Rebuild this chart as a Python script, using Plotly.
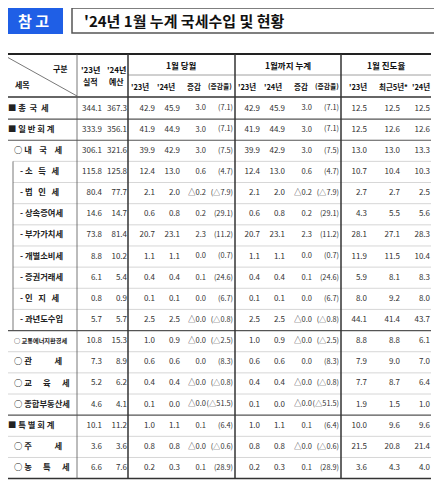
import numpy as np
import plotly.graph_objects as go

# 세목 (label, indent level)
labels = ['■ 총  국  세', '■ 일 반 회 계', '○ 내    국    세', '- 소   득   세', '- 법   인   세',
          '- 상속증여세', '- 부가가치세', '- 개별소비세', '- 증권거래세', '- 인   지   세',
          '- 과년도수입', '○ 교통에너지환경세', '○ 관            세', '○ 교      육      세',
          '○ 종합부동산세', '■ 특 별 회 계', '○ 주            세', '○ 농      특      세']
indent = [0, 0, 1, 2, 2, 2, 2, 2, 2, 2, 2, 1, 1, 1, 1, 0, 1, 1]

actual23 = [344.1, 333.9, 306.1, 115.8, 80.4, 14.6, 73.8, 8.8, 6.1, 0.8, 5.7, 10.8, 7.3, 5.2, 4.6, 10.1, 3.6, 6.6]
budget24 = [367.3, 356.1, 321.6, 125.8, 77.7, 14.7, 81.4, 10.2, 5.4, 0.9, 5.7, 15.3, 8.9, 6.2, 4.1, 11.2, 3.6, 7.6]
m23 = [42.9, 41.9, 39.9, 12.4, 2.1, 0.6, 20.7, 1.1, 0.4, 0.1, 2.5, 1.0, 0.6, 0.4, 0.1, 1.0, 0.8, 0.2]
m24 = [45.9, 44.9, 42.9, 13.0, 2.0, 0.8, 23.1, 1.1, 0.4, 0.1, 2.5, 0.9, 0.6, 0.4, 0.0, 1.1, 0.8, 0.3]
mdiff = [3.0, 3.0, 3.0, 0.6, -0.2, 0.2, 2.3, 0.0, 0.1, 0.0, -0.0, -0.0, 0.0, -0.0, -0.0, 0.1, -0.0, 0.1]
mrate = [7.1, 7.1, 7.5, 4.7, -7.9, 29.1, 11.2, 0.7, 24.6, 6.7, -0.8, -2.5, 8.3, -0.8, -51.5, 6.4, -0.6, 28.9]
c23 = m23
c24 = m24
cdiff = mdiff
crate = mrate
p23 = [12.5, 12.5, 13.0, 10.7, 2.7, 4.3, 28.1, 11.9, 5.9, 8.0, 44.1, 8.8, 7.9, 7.7, 1.9, 10.0, 21.5, 3.6]
p5 = [12.5, 12.6, 13.0, 10.4, 2.7, 5.5, 27.1, 11.5, 8.1, 9.2, 41.4, 8.8, 9.0, 8.7, 1.5, 9.6, 20.8, 4.3]
p24 = [12.5, 12.6, 13.3, 10.3, 2.5, 5.6, 28.3, 10.4, 8.3, 8.0, 43.7, 6.1, 7.0, 6.4, 1.0, 9.6, 21.4, 4.0]


def fmt(v):
    return ('△' if np.signbit(v) else '') + f'{abs(v):.1f}'


def fmt_rate(v):
    return '(' + fmt(v) + ')'


FONT = 'Noto Sans CJK KR'
NUMFONT = 'Liberation Sans Narrow, Noto Sans CJK KR'
TXT = '#333333'
y0, rh = 108.5, 21.15
ys = [y0 + i * rh for i in range(len(labels))]

fig = go.Figure()

# label column
lab_x = [8 + 6 * k for k in indent]
for t, x, y in zip(labels, lab_x, ys):
    s = 6.2 if '교통' in t else 8.3
    fig.add_trace(go.Scatter(x=[x], y=[y], mode='text', text=['<b>' + t + '</b>'], textposition='middle right',
                             textfont=dict(family=FONT, size=s, color='#222222'), hoverinfo='skip'))

# numeric columns: (values, formatter, right edge, font size)
cols = [(actual23, fmt, 102, 8), (budget24, fmt, 127, 8),
        (m23, fmt, 155, 8), (m24, fmt, 180, 8), (mdiff, fmt, 206, 7.5), (mrate, fmt_rate, 233, 7.3),
        (c23, fmt, 260, 8), (c24, fmt, 285, 8), (cdiff, fmt, 312, 7.5), (crate, fmt_rate, 339, 7.3),
        (p23, fmt, 367, 8), (p5, fmt, 400, 8), (p24, fmt, 430, 8)]
for vals, f, xr, s in cols:
    fig.add_trace(go.Scatter(x=[xr] * len(vals), y=ys, mode='text', text=[f(v) for v in vals],
                             textposition='middle left', textfont=dict(family=FONT, size=s, color=TXT),
                             hoverinfo='skip'))

shapes = []


def hline(y, x0=5, x1=431, w=0.8, c='#aaaaaa'):
    shapes.append(dict(type='line', x0=x0, x1=x1, y0=y, y1=y, line=dict(color=c, width=w)))


def vline(x, a, b, w=0.8, c='#555555'):
    shapes.append(dict(type='line', x0=x, x1=x, y0=a, y1=b, line=dict(color=c, width=w)))


# title boxes
shapes.append(dict(type='rect', x0=5, x1=62, y0=8, y1=33, fillcolor='#1f5fe6', line=dict(color='#1f5fe6')))
shapes.append(dict(type='rect', x0=72, x1=435, y0=8, y1=33, fillcolor='white', line=dict(color='#555555', width=1.5)))

# table grid
top, hmid, hbot = 54, 75, 97
bottom = ys[-1] + rh / 2
hline(top, w=2, c='#222222')
hline(hmid, x0=128, w=0.8, c='#888888')
hline(hbot, w=1.5, c='#333333')
for i in range(1, len(labels)):
    yb = y0 + (i - 0.5) * rh
    if i in (1, 2, 11, 15):
        hline(yb, w=1.2, c='#555555')
    elif 3 <= i <= 10:
        hline(yb, x0=13, w=0.6, c='#bbbbbb')
    else:
        hline(yb, w=0.6, c='#bbbbbb')
hline(bottom, w=1.5, c='#333333')
vline(77, top, bottom, w=0.8)
for x in (128, 235, 341):
    vline(x, top, bottom, w=1.5, c='#333333')
vline(13, y0 + 2.5 * rh, y0 + 10.5 * rh, w=0.8)
shapes.append(dict(type='line', x0=7, y0=57, x1=77, y1=96, line=dict(color='#555555', width=0.8)))

ann = []


def txt(x, y, t, s=8.5, c='#111111', anchor='center'):
    ann.append(dict(x=x, y=y, text=t, showarrow=False, xanchor=anchor, yanchor='middle',
                    font=dict(family=FONT, size=s, color=c)))


txt(33, 20.5, '<b>참 고</b>', 15, 'white')
txt(82, 20.5, "<b>'24년 1월 누계 국세수입 및 현황</b>", 15, '#111111', 'left')
txt(60, 68, '<b>구분</b>', 8)
txt(22, 84, '<b>세목</b>', 8)
for x, a, b in ((90, "<b>'23년</b>", '<b>실적</b>'), (116, "<b>'24년</b>", '<b>예산</b>')):
    txt(x, 69, a, 8)
    txt(x, 81, b, 8)
for x, t in ((181, '<b>1월 당월</b>'), (288, '<b>1월까지 누계</b>'), (386, '<b>1월 진도율</b>')):
    txt(x, 64.5, t, 8.5)
sub = ["<b>'23년</b>", "<b>'24년</b>", '<b>증감</b>', '<b>(증감율)</b>']
for base in (128, 235):
    for dx, t in zip((12, 38, 66, 92), sub):
        txt(base + dx, 86, t, 7.5 if 'b>(' not in t else 6.8)
for x, t in ((358, "<b>'23년</b>"), (393, '<b>최근5년*</b>'), (421, "<b>'24년</b>")):
    txt(x, 86, t, 7.5)
txt(6, 490, '* 최근 5년 : 최대 및 최소 연도 제외한 절사평균 진도율', 8.3, '#222222', 'left')

# page body has an 8px margin, so the figure is sized and ranged to fit the 442x500 window
fig.update_layout(width=434, height=492, margin=dict(l=0, r=0, t=0, b=0), showlegend=False,
                  plot_bgcolor='white', paper_bgcolor='white', shapes=shapes, annotations=ann,
                  xaxis=dict(range=[8, 442], visible=False, fixedrange=True),
                  yaxis=dict(range=[500, 8], visible=False, fixedrange=True))
fig.write_html('out.html')
